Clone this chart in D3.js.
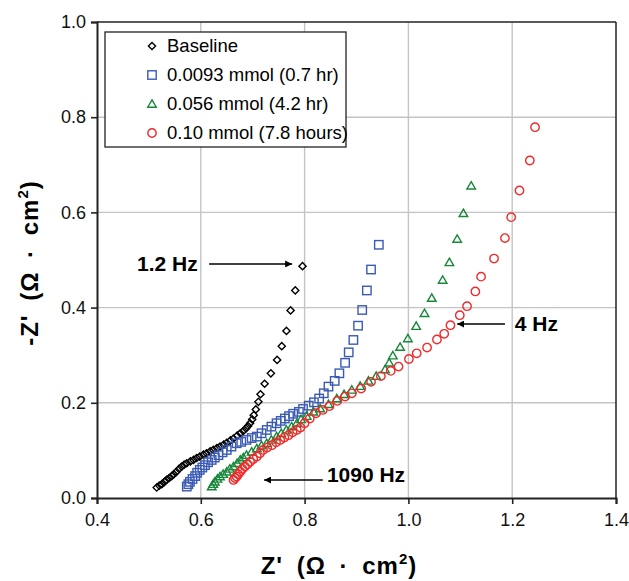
<!DOCTYPE html>
<html>
<head>
<meta charset="utf-8">
<script src="https://cdn.jsdelivr.net/npm/d3@7"></script>
<style>
  body { margin: 0; background: #fff; }
  svg { font-family: Arial, "Liberation Sans", sans-serif; }
  .tick text { font-size: 18px; fill: #111; }
  .annot { font-size: 21px; font-weight: bold; fill: #000; }
  .axisTitle { font-size: 24px; font-weight: bold; fill: #000; word-spacing: 6px; letter-spacing: 1px; }
  .legendText { font-size: 18.5px; fill: #000; }
</style>
</head>
<body>
<div id="chart"></div>
<script>
var svgWidth = 629;
var svgHeight = 581;

var margin = { top: 22, right: 13, bottom: 83, left: 97 };
var width = svgWidth - margin.left - margin.right;
var height = svgHeight - margin.top - margin.bottom;

// Data: [Z', -Z'] in ohm*cm2
var baseline = [[0.515,0.022],[0.520,0.026],[0.525,0.029],[0.530,0.034],[0.534,0.038],[0.539,0.042],[0.544,0.046],[0.548,0.050],[0.553,0.055],[0.558,0.061],[0.563,0.066],[0.568,0.070],[0.573,0.073],[0.580,0.077],[0.586,0.080],[0.592,0.084],[0.598,0.087],[0.605,0.091],[0.611,0.094],[0.618,0.098],[0.624,0.101],[0.631,0.105],[0.637,0.108],[0.644,0.112],[0.650,0.116],[0.657,0.121],[0.663,0.125],[0.670,0.131],[0.676,0.136],[0.682,0.141],[0.687,0.146],[0.691,0.151],[0.695,0.157],[0.699,0.165],[0.702,0.174],[0.706,0.186],[0.711,0.202],[0.715,0.218],[0.723,0.240],[0.735,0.262],[0.747,0.290],[0.756,0.319],[0.765,0.351],[0.773,0.394],[0.782,0.436],[0.796,0.487]];
var dose0093 = [[0.573,0.024],[0.576,0.029],[0.579,0.034],[0.584,0.040],[0.589,0.046],[0.593,0.053],[0.598,0.059],[0.603,0.064],[0.608,0.069],[0.614,0.075],[0.621,0.080],[0.627,0.085],[0.634,0.090],[0.642,0.096],[0.650,0.101],[0.659,0.108],[0.669,0.115],[0.678,0.118],[0.688,0.122],[0.698,0.126],[0.708,0.129],[0.717,0.136],[0.727,0.143],[0.736,0.150],[0.746,0.157],[0.754,0.162],[0.762,0.167],[0.770,0.172],[0.778,0.177],[0.789,0.181],[0.797,0.187],[0.808,0.194],[0.818,0.201],[0.828,0.209],[0.837,0.220],[0.846,0.234],[0.858,0.246],[0.867,0.262],[0.878,0.284],[0.885,0.306],[0.894,0.332],[0.903,0.362],[0.911,0.395],[0.920,0.436],[0.928,0.480],[0.943,0.532]];
var dose056 = [[0.621,0.024],[0.624,0.029],[0.627,0.034],[0.632,0.040],[0.637,0.045],[0.643,0.050],[0.650,0.055],[0.656,0.061],[0.663,0.066],[0.670,0.073],[0.676,0.080],[0.682,0.085],[0.688,0.090],[0.698,0.097],[0.708,0.104],[0.717,0.110],[0.727,0.115],[0.736,0.122],[0.746,0.129],[0.755,0.136],[0.765,0.143],[0.775,0.150],[0.785,0.157],[0.793,0.165],[0.804,0.172],[0.817,0.181],[0.830,0.188],[0.846,0.197],[0.862,0.209],[0.876,0.218],[0.891,0.227],[0.907,0.235],[0.923,0.246],[0.938,0.256],[0.955,0.270],[0.963,0.284],[0.970,0.299],[0.984,0.317],[0.999,0.335],[1.015,0.361],[1.031,0.388],[1.045,0.420],[1.066,0.458],[1.079,0.495],[1.094,0.544],[1.106,0.598],[1.121,0.656]];
var dose10 = [[0.663,0.038],[0.666,0.042],[0.669,0.045],[0.672,0.050],[0.676,0.055],[0.680,0.061],[0.685,0.066],[0.690,0.071],[0.695,0.076],[0.701,0.082],[0.708,0.087],[0.714,0.094],[0.720,0.101],[0.728,0.106],[0.737,0.111],[0.745,0.117],[0.753,0.122],[0.761,0.127],[0.769,0.132],[0.777,0.138],[0.785,0.143],[0.792,0.148],[0.800,0.157],[0.810,0.167],[0.822,0.178],[0.835,0.185],[0.848,0.193],[0.863,0.204],[0.878,0.213],[0.891,0.220],[0.909,0.230],[0.928,0.244],[0.947,0.256],[0.966,0.267],[0.981,0.276],[1.001,0.292],[1.016,0.304],[1.036,0.316],[1.055,0.333],[1.069,0.345],[1.081,0.363],[1.099,0.384],[1.113,0.403],[1.129,0.434],[1.140,0.465],[1.165,0.503],[1.186,0.546],[1.198,0.590],[1.214,0.646],[1.234,0.709],[1.244,0.779]];

var seriesNames = ["Baseline", "0.0093 mmol (0.7 hr)", "0.056 mmol (4.2 hr)", "0.10 mmol (7.8 hours)"];
var xTicks = [0.4, 0.6, 0.8, 1.0, 1.2, 1.4];
var yTicks = [0.0, 0.2, 0.4, 0.6, 0.8, 1.0];

var series = [
  { name: seriesNames[0], data: baseline, color: "#000000", shape: "diamond" },
  { name: seriesNames[1], data: dose0093, color: "#3a5ab4", shape: "square" },
  { name: seriesNames[2], data: dose056, color: "#17883a", shape: "triangle" },
  { name: seriesNames[3], data: dose10, color: "#ee2b2b", shape: "circle" }
];

var svg = d3.select("#chart")
  .append("svg")
  .attr("width", svgWidth)
  .attr("height", svgHeight);

var chartGroup = svg.append("g")
  .attr("transform", `translate(${margin.left}, ${margin.top})`);

var xScale = d3.scaleLinear().domain([0.4, 1.4]).range([0, width]);
var yScale = d3.scaleLinear().domain([0, 1.0]).range([height, 0]);

// gridlines
chartGroup.selectAll(".vgrid")
  .data(xTicks.slice(1, -1))
  .enter()
  .append("line")
  .attr("x1", d => xScale(d)).attr("x2", d => xScale(d))
  .attr("y1", 0).attr("y2", height)
  .attr("stroke", "#c4c4c4").attr("stroke-width", 1.4);

chartGroup.selectAll(".hgrid")
  .data(yTicks.slice(1, -1))
  .enter()
  .append("line")
  .attr("x1", 0).attr("x2", width)
  .attr("y1", d => yScale(d)).attr("y2", d => yScale(d))
  .attr("stroke", "#c4c4c4").attr("stroke-width", 1.4);

// frame top and right
chartGroup.append("line")
  .attr("x1", 0).attr("x2", width).attr("y1", 0).attr("y2", 0)
  .attr("stroke", "#222").attr("stroke-width", 1.5);
chartGroup.append("line")
  .attr("x1", width).attr("x2", width).attr("y1", 0).attr("y2", height)
  .attr("stroke", "#222").attr("stroke-width", 1.5);

// axes
var bottomAxis = d3.axisBottom(xScale).tickValues(xTicks).tickFormat(d3.format(".1f")).tickSizeOuter(0).tickSize(6).tickPadding(9);
var leftAxis = d3.axisLeft(yScale).tickValues(yTicks).tickFormat(d3.format(".1f")).tickSizeOuter(0).tickSize(6).tickPadding(5);

var xAxisG = chartGroup.append("g")
  .attr("transform", `translate(0, ${height})`)
  .call(bottomAxis);
var yAxisG = chartGroup.append("g")
  .call(leftAxis);

[xAxisG, yAxisG].forEach(function(g) {
  g.select(".domain").attr("stroke", "#222").attr("stroke-width", 2);
  g.selectAll(".tick line").attr("stroke", "#222").attr("stroke-width", 1.6);
  g.selectAll(".tick text").attr("font-family", "Arial, 'Liberation Sans', sans-serif");
});

// marker drawing
function drawMarker(sel, shape, color) {
  if (shape === "diamond") {
    sel.append("path").attr("d", "M0,-3.6L3.6,0L0,3.6L-3.6,0Z");
  } else if (shape === "square") {
    sel.append("rect").attr("x", -4.2).attr("y", -4.2).attr("width", 8.4).attr("height", 8.4);
  } else if (shape === "triangle") {
    sel.append("path").attr("d", "M0,-4.2L4.3,3.2L-4.3,3.2Z");
  } else {
    sel.append("circle").attr("r", 4.2);
  }
  sel.selectAll("*")
    .attr("fill", "none")
    .attr("stroke", color)
    .attr("stroke-width", 1.4);
}

series.forEach(function(s) {
  chartGroup.append("g")
    .selectAll("g")
    .data(s.data)
    .enter()
    .append("g")
    .attr("transform", d => `translate(${xScale(d[0])}, ${yScale(d[1])})`)
    .each(function() { drawMarker(d3.select(this), s.shape, s.color); });
});

// annotations with arrows
svg.append("defs").append("marker")
  .attr("id", "arrow")
  .attr("viewBox", "0 0 10 10")
  .attr("refX", 10).attr("refY", 5)
  .attr("markerWidth", 7).attr("markerHeight", 7)
  .attr("markerUnits", "userSpaceOnUse")
  .attr("orient", "auto")
  .append("path")
  .attr("d", "M0,0L10,5L0,10Z")
  .attr("fill", "#000");

var annotations = [
  { label: "1.2 Hz", tx: 0.594, ty: 0.4916, anchor: "end", ax1: 0.616, ax2: 0.776, ay: 0.4916 },
  { label: "4 Hz", tx: 1.205, ty: 0.3655, anchor: "start", ax1: 1.186, ax2: 1.094, ay: 0.3655 },
  { label: "1090 Hz", tx: 0.843, ty: 0.050, anchor: "start", ax1: 0.835, ax2: 0.722, ay: 0.0378 }
];

annotations.forEach(function(a) {
  chartGroup.append("line")
    .attr("x1", xScale(a.ax1)).attr("x2", xScale(a.ax2))
    .attr("y1", yScale(a.ay)).attr("y2", yScale(a.ay))
    .attr("stroke", "#000").attr("stroke-width", 1.3)
    .attr("marker-end", "url(#arrow)");
  chartGroup.append("text")
    .attr("class", "annot")
    .attr("x", xScale(a.tx))
    .attr("y", yScale(a.ty))
    .attr("dy", "0.35em")
    .attr("text-anchor", a.anchor)
    .text(a.label);
});

// legend
var legend = svg.append("g").attr("transform", "translate(105, 32)");
legend.append("rect")
  .attr("x", 0).attr("y", 0)
  .attr("width", 241).attr("height", 115)
  .attr("fill", "#fff").attr("stroke", "#222").attr("stroke-width", 1.3);

series.forEach(function(s, i) {
  var row = legend.append("g").attr("transform", `translate(0, ${14 + i * 29})`);
  var m = row.append("g").attr("transform", "translate(47, 0)");
  drawMarker(m, s.shape, s.color);
  row.append("text")
    .attr("class", "legendText")
    .attr("x", 62).attr("y", 0).attr("dy", "0.35em")
    .text(s.name);
});

// axis titles
var xt = svg.append("text")
  .attr("class", "axisTitle")
  .attr("x", 339).attr("y", 574)
  .attr("text-anchor", "middle");
xt.append("tspan").text("Z' (\u03A9 \u00B7 cm");
xt.append("tspan").attr("font-size", "15px").attr("dy", "-10").text("2");
xt.append("tspan").attr("dy", "10").text(")");

var yt = svg.append("text")
  .attr("class", "axisTitle")
  .attr("transform", "translate(38, 263) rotate(-90)")
  .attr("text-anchor", "middle");
yt.append("tspan").text("-Z' (\u03A9 \u00B7 cm");
yt.append("tspan").attr("font-size", "15px").attr("dy", "-10").text("2");
yt.append("tspan").attr("dy", "10").text(")");
</script>
</body>
</html>
